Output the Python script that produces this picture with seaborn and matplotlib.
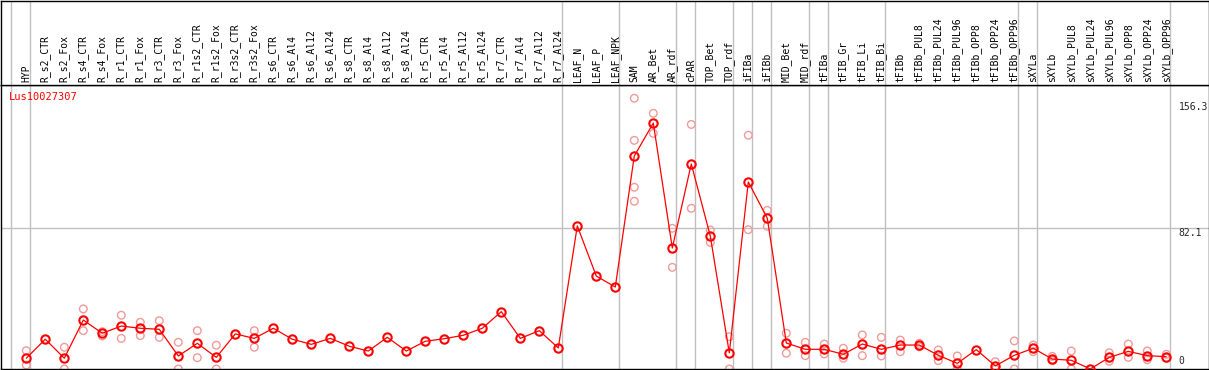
import numpy as np
import pandas as pd
import matplotlib
matplotlib.use("Agg")
import matplotlib.pyplot as plt
import matplotlib.transforms as mtransforms
import seaborn as sns

categories = ["HYP", "R_s2_CTR", "R_s2_Fox", "R_s4_CTR", "R_s4_Fox", "R_r1_CTR", "R_r1_Fox",
              "R_r3_CTR", "R_r3_Fox", "R_r1s2_CTR", "R_r1s2_Fox", "R_r3s2_CTR", "R_r3s2_Fox",
              "R_s6_CTR", "R_s6_Al4", "R_s6_Al12", "R_s6_Al24", "R_s8_CTR", "R_s8_Al4",
              "R_s8_Al12", "R_s8_Al24", "R_r5_CTR", "R_r5_Al4", "R_r5_Al12", "R_r5_Al24",
              "R_r7_CTR", "R_r7_Al4", "R_r7_Al12", "R_r7_Al24", "LEAF_N", "LEAF_P", "LEAF_NPK",
              "SAM", "AR_Bet", "AR_rdf", "cPAR", "TOP_Bet", "TOP_rdf", "iFIBa", "iFIBb",
              "MID_Bet", "MID_rdf", "tFIBa", "tFIB_Gr", "tFIB_Li", "tFIB_Bi", "tFIBb",
              "tFIBb_PUL8", "tFIBb_PUL24", "tFIBb_PUL96", "tFIBb_OPP8", "tFIBb_OPP24",
              "tFIBb_OPP96", "sXYLa", "sXYLb", "sXYLb_PUL8", "sXYLb_PUL24", "sXYLb_PUL96",
              "sXYLb_OPP8", "sXYLb_OPP24", "sXYLb_OPP96"]

mean_values = [6.3, 17.4, 6.3, 28.6, 20.9, 25.1, 23.8, 23.2, 7.6, 15.0, 6.8, 20.5, 17.9,
               23.8, 17.4, 14.4, 17.9, 13.3, 10.5, 18.5, 10.5, 16.2, 17.7, 19.7, 23.8,
               33.5, 17.9, 22.4, 12.3, 83.6, 54.3, 47.9,
               124.5, 143.7, 70.7, 119.8, 77.7, 9.4, 109.3, 88.1,
               15.2, 11.5, 11.5, 8.6, 14.6, 11.5, 14.0,
               14.0, 8.0, 3.3, 11.3, 1.8, 8.0, 12.1, 5.8, 5.1, 0.0, 6.8, 10.3, 7.8, 7.2]

nan = np.nan
rep_a = [10.7, nan, 12.7, 35.1, 21.8, 31.4, 27.3, 28.2, 15.6, 22.4, 13.9, nan, 22.4,
         nan, nan, nan, nan, nan, nan, nan, nan, nan, nan, nan, nan,
         nan, nan, nan, nan, nan, nan, nan,
         158.2, 149.4, 82.2, 142.9, 81.2, 18.9, 136.6, 92.7,
         20.9, 15.6, 14.6, 12.1, 19.9, 18.5, 16.9,
         15.0, 11.1, 7.6, nan, 4.3, 16.4, 14.0, 7.4, 10.5, nan, 9.5, 14.6, 10.5, 8.6]
rep_b = [2.3, nan, 0.0, 22.4, 19.3, 17.9, 19.5, 18.5, 0.0, 6.6, 0.0, nan, 12.7,
         nan, nan, nan, nan, nan, nan, nan, nan, nan, nan, nan, nan,
         nan, nan, nan, nan, nan, nan, nan,
         133.6, 137.7, 59.4, 93.9, 74.0, 0.0, 81.4, 83.4,
         9.2, 7.8, 8.8, 6.3, 7.8, 7.6, 10.1,
         13.0, 4.9, 0.0, nan, 0.0, 0.0, 10.1, 4.9, 0.0, nan, 4.5, 6.8, 5.4, 6.3]
rep_c = [nan] * 32 + [106.2] + [nan] * 28
rep_d = [nan] * 32 + [98.0] + [nan] * 28

group_breaks = [-1, 0, 28, 31, 34, 35, 37, 38, 39, 41, 42, 45, 52, 53, 60]
gene_id = "Lus10027307"
y_labels = ["156.3", "82.1", "0"]
y_label_values = [156.3, 82.1, 0.0]

# ---------------------------------------------------------------
W, H = 1209, 370
sns.set_style("white")
plt.rcParams["font.family"] = ["DejaVu Sans Mono", "DejaVu Sans"]

fig = plt.figure(figsize=(W / 100, H / 100), dpi=100)

def px_to_i(px):
    return (px - 26.3) / 19.0

xlim = (px_to_i(0.5), px_to_i(1208.5))
y_top_val = (369 - 85) * 0.5843

ax = fig.add_axes([0.5 / W, (H - 369) / H, 1208 / W, (369 - 85) / H])
hdr = fig.add_axes([0.5 / W, (H - 85) / H, 1208 / W, 84.5 / H])

x_idx = np.arange(len(categories))
df_mean = pd.DataFrame({"pos": x_idx, "value": mean_values, "cat": categories})
reps = []
for arr in (rep_a, rep_b, rep_c, rep_d):
    reps.append(pd.DataFrame({"pos": x_idx, "value": arr}))
df_rep = pd.concat(reps).dropna()

# grid / group lines
for b in group_breaks:
    ax.axvline(b + 0.21, color="#c0c0c0", lw=1.0, zorder=0)
    hdr.axvline(b + 0.21, color="#c0c0c0", lw=1.0, zorder=0)
ax.axhline(82.1, color="#c0c0c0", lw=1.0, zorder=0)

sns.scatterplot(data=df_rep, x="pos", y="value", ax=ax, marker="o", s=30,
                facecolor="none", edgecolor="#f09a9a", linewidth=1.0, zorder=2, legend=False)
sns.lineplot(data=df_mean, x="pos", y="value", ax=ax, color="#ff0000", lw=0.9,
             marker="o", markersize=6, markerfacecolor="none", markeredgecolor="#ff0000",
             markeredgewidth=1.5, zorder=3, legend=False)

ax.set_xlim(*xlim)
ax.set_ylim(0, y_top_val)
ax.set_xlabel("")
ax.set_ylabel("")
ax.set_xticks([])
ax.set_yticks([])
for sp in ax.spines.values():
    sp.set_color("black")
    sp.set_linewidth(1.0)
    sp.set_visible(True)
ax.set_facecolor("white")

hdr.set_xlim(*xlim)
hdr.set_ylim(0, 1)
hdr.set_xticks([])
hdr.set_yticks([])
for sp in hdr.spines.values():
    sp.set_color("black")
    sp.set_linewidth(1.0)
    sp.set_visible(True)

for i, c in enumerate(categories):
    hdr.text(i, 0.03, c, rotation=90, ha="center", va="bottom", fontsize=7, color="black")

ax.text(8 / 1208, 1 - 7 / 284, gene_id, transform=ax.transAxes, color="#ff0000",
        fontsize=7.5, ha="left", va="top")

trans = mtransforms.blended_transform_factory(ax.transAxes, ax.transData)
for lab, v in zip(y_labels, y_label_values):
    if v == 0:
        ax.text(1178 / 1208, 1.8, lab, transform=trans, fontsize=7, ha="left", va="bottom")
    else:
        ax.text(1178 / 1208, v, lab, transform=trans, fontsize=7, ha="left", va="top")

fig.savefig("out.png", dpi=100)
